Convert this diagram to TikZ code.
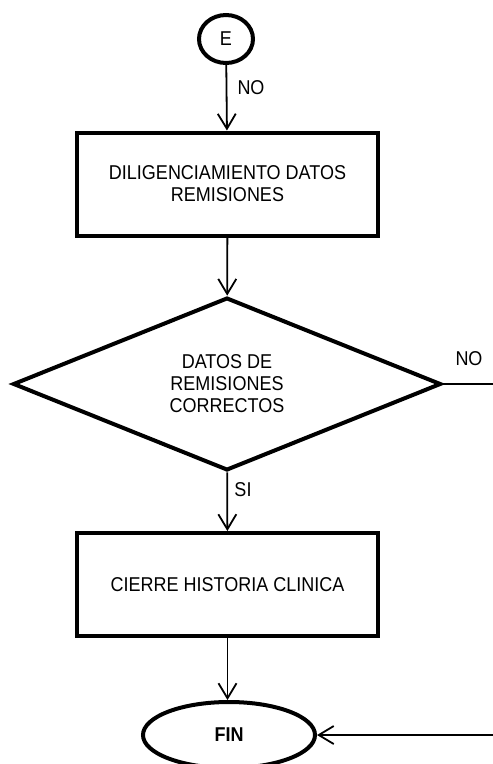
\documentclass[tikz,border=0pt]{standalone}
\usepackage{fontspec}
\setmainfont{Liberation Sans}[FakeStretch=0.9]
\usetikzlibrary{shapes.geometric,arrows.meta}
\tikzset{
  every node/.style={font=\fontsize{20}{22}\selectfont},
  procbox/.style={draw, line width=4pt, minimum width=301pt, minimum height=103pt, inner sep=0pt, align=center},
  decision/.style={draw, diamond, line width=4pt, minimum width=428pt, minimum height=167pt, inner sep=0pt, align=center},
  terminal/.style={draw, ellipse, line width=4pt, inner sep=0pt},
  flow/.style={line width=1.8pt, -{Straight Barb[length=15pt,width=18pt,line width=1.8pt]}},
  plain/.style={line width=1.8pt},
  lbl/.style={inner sep=0pt}
}
\begin{document}
\begin{tikzpicture}[x=1pt,y=-1pt]
\useasboundingbox (0,0) rectangle (493,764);
\node[terminal, minimum width=54pt, minimum height=48pt] (e) at (226,39) {E};
\node[procbox] (b1) at (227.5,184) {DILIGENCIAMIENTO DATOS\\REMISIONES};
\node[decision] (d) at (227,384) {DATOS DE\\REMISIONES\\CORRECTOS};
\node[procbox] (b2) at (227.5,584.5) {CIERRE HISTORIA CLINICA};
\node[terminal, minimum width=172pt, minimum height=66pt] (fin) at (229,735) {\bfseries FIN};
\coordinate (r1) at (493,384);
\coordinate (r2) at (493,735);
\draw[flow] (e) -- (b1);
\draw[flow] (b1) -- (d);
\draw[flow] (d) -- (b2);
\draw[flow] (b2) -- (b2 |- fin.north);
\draw[plain] (d.east) -- (r1);
\draw[flow] (r2) -- (fin.east);
\node[lbl] (lno1) at (251,88) {NO};
\node[lbl] (lno2) at (469,359) {NO};
\node[lbl] (lsi) at (243,490) {SI};
\end{tikzpicture}
\end{document}
